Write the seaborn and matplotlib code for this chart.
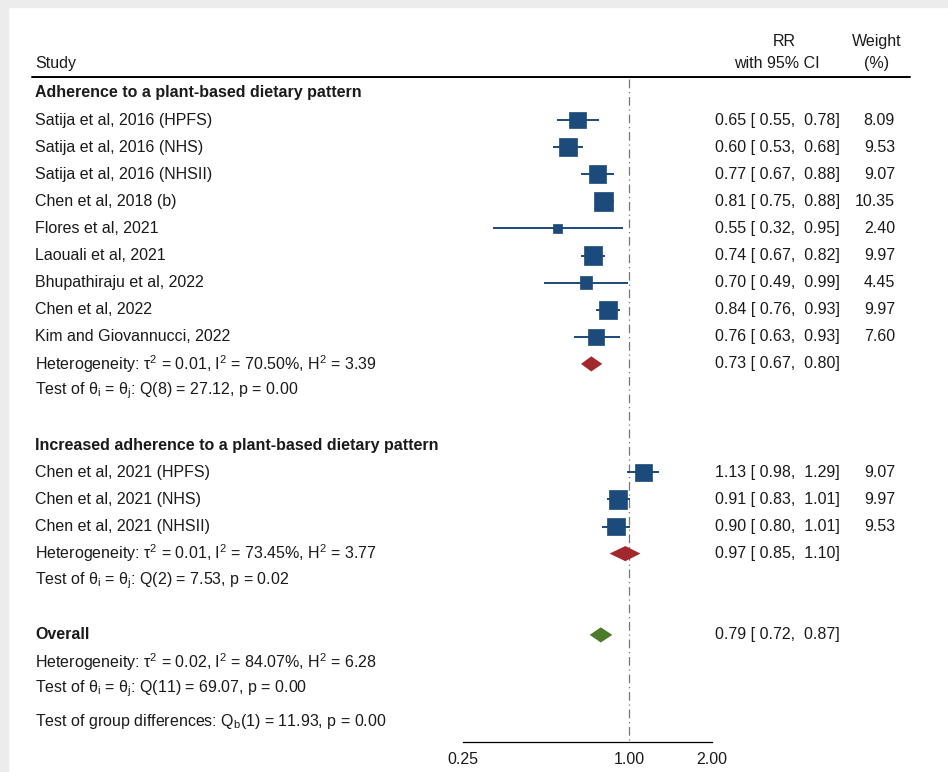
import numpy as np
import pandas as pd
import seaborn as sns
import matplotlib.pyplot as plt
from matplotlib import transforms
from matplotlib.patches import Rectangle

# Study-level data
group1_studies = ['Satija et al, 2016 (HPFS)', 'Satija et al, 2016 (NHS)', 'Satija et al, 2016 (NHSII)',
                  'Chen et al, 2018 (b)', 'Flores et al, 2021', 'Laouali et al, 2021',
                  'Bhupathiraju et al, 2022', 'Chen et al, 2022', 'Kim and Giovannucci, 2022']
group1_rr = [0.65, 0.60, 0.77, 0.81, 0.55, 0.74, 0.70, 0.84, 0.76]
group1_lo = [0.55, 0.53, 0.67, 0.75, 0.32, 0.67, 0.49, 0.76, 0.63]
group1_hi = [0.78, 0.68, 0.88, 0.88, 0.95, 0.82, 0.99, 0.93, 0.93]
group1_w = [8.09, 9.53, 9.07, 10.35, 2.40, 9.97, 4.45, 9.97, 7.60]

group2_studies = ['Chen et al, 2021 (HPFS)', 'Chen et al, 2021 (NHS)', 'Chen et al, 2021 (NHSII)']
group2_rr = [1.13, 0.91, 0.90]
group2_lo = [0.98, 0.83, 0.80]
group2_hi = [1.29, 1.01, 1.01]
group2_w = [9.07, 9.97, 9.53]

# Pooled estimates
group_titles = ['Adherence to a plant-based dietary pattern',
                'Increased adherence to a plant-based dietary pattern']
group_rr = [0.73, 0.97]
group_lo = [0.67, 0.85]
group_hi = [0.80, 1.10]
group_het = [('0.01', '70.50%', '3.39'), ('0.01', '73.45%', '3.77')]
group_q = [('8', '27.12', '0.00'), ('2', '7.53', '0.02')]

overall_rr, overall_lo, overall_hi = 0.79, 0.72, 0.87
overall_het = ('0.02', '84.07%', '6.28')
overall_q = ('11', '69.07', '0.00')
group_diff = ('1', '11.93', '0.00')

xticks = [0.25, 1.0, 2.0]
xtick_labels = ['0.25', '1.00', '2.00']

navy = '#1c4a7b'
red = '#a3282e'
green = '#4e7a2c'
ink = '#1a1a1a'

sns.set_theme(style='white')
plt.rcParams['font.family'] = ['Liberation Sans', 'DejaVu Sans']
plt.rcParams['mathtext.fontset'] = 'custom'
plt.rcParams['mathtext.rm'] = 'Liberation Sans'
plt.rcParams['mathtext.it'] = 'Liberation Sans:italic'
plt.rcParams['mathtext.bf'] = 'Liberation Sans:bold'
FS = 11.5

W, H = 948, 772
fig = plt.figure(figsize=(W / 100, H / 100), dpi=100)
ax = fig.add_axes([0, 0, 1, 1])

# pixel layout: RR=1 at x=629, 83 px per doubling; row 0 at y=120, 27.1 px per row
ax.set_xscale('log', base=2)
ax.set_xlim(2 ** (-629 / 83), 2 ** ((W - 629) / 83))
ax.set_ylim((H - 120) / 27.1, -120 / 27.1)

rows1 = list(range(0, 9))
rows2 = [13, 14, 15]
df = pd.DataFrame({
    'study': group1_studies + group2_studies,
    'rr': group1_rr + group2_rr,
    'lo': group1_lo + group2_lo,
    'hi': group1_hi + group2_hi,
    'weight': group1_w + group2_w,
    'row': rows1 + rows2,
})

# confidence intervals + weighted squares
ax.hlines(df['row'], df['lo'], df['hi'], color=navy, lw=1.4, zorder=2)
sns.scatterplot(data=df, x='rr', y='row', size='weight',
                sizes={w: 17.5 * w for w in df['weight']},
                marker='s', color=navy, edgecolor=navy, linewidth=0.5,
                legend=False, ax=ax, zorder=3)

# pooled diamonds
def diamond(est, lo, hi, row, color, h=0.28):
    ax.fill([lo, est, hi, est], [row, row - h, row, row + h], color=color, lw=0, zorder=3)

diamond(group_rr[0], group_lo[0], group_hi[0], 9, red)
diamond(group_rr[1], group_lo[1], group_hi[1], 16, red)
diamond(overall_rr, overall_lo, overall_hi, 19, green)

# null line
ax.plot([1, 1], [-1.5, 22.95], color='#777777', lw=0.9, dashes=(7, 3, 1, 3), zorder=1)

# axis
for s in ['top', 'left', 'right']:
    ax.spines[s].set_visible(False)
ax.spines['bottom'].set_position(('data', 22.95))
ax.spines['bottom'].set_bounds(0.25, 2.0)
ax.spines['bottom'].set_color('black')
ax.spines['bottom'].set_linewidth(0.9)
ax.set_xticks(xticks)
ax.set_xticklabels(xtick_labels, fontsize=FS, color=ink)
ax.xaxis.set_minor_locator(plt.NullLocator())
ax.tick_params(axis='x', direction='out', length=5, width=0.9, color='black', pad=2)
ax.set_yticks([])
ax.set_xlabel('')
ax.set_ylabel('')

# text columns
tr = transforms.blended_transform_factory(ax.transAxes, ax.transData)
xn = 35 / W
xr = 840 / W
xw = 895 / W
txt = dict(transform=tr, fontsize=FS, va='center', color=ink)

ax.text(xn, -2.1, 'Study', **txt)
ax.text(784 / W, -2.88, 'RR', ha='center', **txt)
ax.text(777 / W, -2.1, 'with 95% CI', ha='center', **txt)
ax.text(877 / W, -2.88, 'Weight', ha='center', **txt)
ax.text(877 / W, -2.1, '(%)', ha='center', **txt)
ax.axhline(-1.59, xmin=32 / W, xmax=910 / W, color='black', lw=1.4)


def ci_text(est, lo, hi):
    return f'{est:.2f} [ {lo:.2f},  {hi:.2f}]'


def het_text(t2, i2, h2):
    return f'Heterogeneity: τ$^2$ = {t2}, I$^2$ = {i2}, H$^2$ = {h2}'


def q_text(df_, q, p):
    return f'Test of θ$_\\mathrm{{i}}$ = θ$_\\mathrm{{j}}$: Q({df_}) = {q}, p = {p}'


for _, r in df.iterrows():
    ax.text(xn, r['row'], r['study'], **txt)
    ax.text(xr, r['row'], ci_text(r['rr'], r['lo'], r['hi']), ha='right', **txt)
    ax.text(xw, r['row'], f"{r['weight']:.2f}", ha='right', **txt)

for title, trow in zip(group_titles, [-1, 12]):
    ax.text(xn, trow, title, fontweight='bold', **txt)

for k, hrow in enumerate([9, 16]):
    ax.text(xn, hrow, het_text(*group_het[k]), **txt)
    ax.text(xr, hrow, ci_text(group_rr[k], group_lo[k], group_hi[k]), ha='right', **txt)
    ax.text(xn, hrow + 1, q_text(*group_q[k]), **txt)

ax.text(xn, 19, 'Overall', fontweight='bold', **txt)
ax.text(xr, 19, ci_text(overall_rr, overall_lo, overall_hi), ha='right', **txt)
ax.text(xn, 20, het_text(*overall_het), **txt)
ax.text(xn, 21, q_text(*overall_q), **txt)
ax.text(xn, 22.18, 'Test of group differences: Q$_\\mathrm{b}$(%s) = %s, p = %s' % group_diff, **txt)

# screenshot border
fig.patches.append(Rectangle((0, 1 - 7 / H), 1, 7 / H, transform=fig.transFigure,
                             color='#ececec', zorder=0))
fig.patches.append(Rectangle((0, 0), 8 / W, 1, transform=fig.transFigure,
                             color='#ececec', zorder=0))

fig.savefig('out.png', dpi=100)
